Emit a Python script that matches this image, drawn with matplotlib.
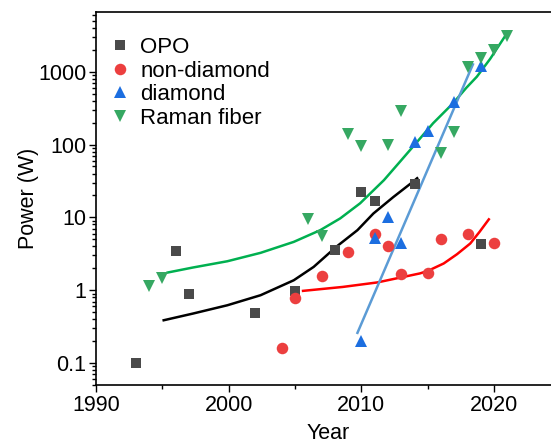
import matplotlib
matplotlib.use("Agg")
import matplotlib.pyplot as plt
from matplotlib.ticker import FixedLocator, FixedFormatter, LogLocator, NullFormatter, MultipleLocator

plt.rcParams['font.family'] = ['Liberation Sans', 'DejaVu Sans']

# ---- data ----
opo_year = [1993, 1996, 1997, 2002, 2005, 2008, 2010, 2011, 2014, 2019]
opo_power = [0.1, 3.5, 0.88, 0.48, 0.97, 3.6, 22, 17, 29, 4.3]

nondia_year = [2004, 2005, 2007, 2009, 2011, 2012, 2013, 2015, 2016, 2018, 2020]
nondia_power = [0.16, 0.78, 1.55, 3.3, 6.0, 4.0, 1.65, 1.75, 5.1, 6.0, 4.4]

dia_year = [2010, 2011, 2012, 2013, 2014, 2015, 2017, 2019]
dia_power = [0.2, 5.2, 10.2, 4.5, 108, 155, 380, 1180]

raman_year = [1994, 1995, 2006, 2007, 2009, 2010, 2012, 2013, 2016, 2017, 2018, 2019, 2020, 2021]
raman_power = [1.15, 1.45, 9.6, 5.5, 140, 97, 100, 285, 76, 148, 1150, 1530, 1980, 3050]

# fit curves, points
fit_raman_x = [1995.4, 1997.3, 1999.9, 2002.4, 2004.9, 2006.9, 2008.4, 2009.9, 2011.7,
               2012.9, 2014.2, 2015.4, 2016.9, 2017.9, 2018.7, 2019.7, 2020.8]
fit_raman_y = [1.75, 2.05, 2.5, 3.26, 4.61, 6.68, 9.68, 15.6, 32.5,
               58, 109, 196, 368, 600, 855, 1500, 3030]

fit_opo_x = [1995.1, 1997.3, 1999.9, 2002.4, 2004.9, 2006.4, 2008.1, 2009.7, 2010.9, 2012.4, 2013.9, 2014.2]
fit_opo_y = [0.387, 0.478, 0.622, 0.854, 1.37, 2.09, 3.94, 6.68, 11.3, 19.0, 31.0, 34.5]

fit_nondia_x = [2005.6, 2008.6, 2011.2, 2014.4, 2015.0, 2016.2, 2017.2, 2018.2, 2018.9, 2019.6]
fit_nondia_y = [0.98, 1.11, 1.28, 1.70, 1.84, 2.33, 3.12, 4.38, 6.33, 9.4]

fit_dia_x = [2009.7, 2018.4]
fit_dia_y = [0.26, 1260]

ytick_vals = [0.1, 1, 10, 100, 1000]
ytick_labels = ["0.1", "1", "10", "100", "1000"]
xtick_vals = [1990, 2000, 2010, 2020]
xtick_labels = ["1990", "2000", "2010", "2020"]

# ---- figure ----
W, H = 551, 444
fig = plt.figure(figsize=(W / 100, H / 100), dpi=100)
left_px, right_px, top_px, bot_px = 96, 560.5, 12, 385
ax = fig.add_axes([left_px / W, (H - bot_px) / H, (right_px - left_px) / W, (bot_px - top_px) / H])

c_opo = '#4a4a4a'
c_red = '#ec3f3f'
c_blue = '#1c6ee0'
c_green = '#36a862'

ax.plot(fit_raman_x, fit_raman_y, color='#00b050', lw=1.8, zorder=2, solid_joinstyle='round')
ax.plot(fit_opo_x, fit_opo_y, color='black', lw=1.8, zorder=2, solid_joinstyle='round')
ax.plot(fit_nondia_x, fit_nondia_y, color='#ff0000', lw=1.8, zorder=2, solid_joinstyle='round')
ax.plot(fit_dia_x, fit_dia_y, color='#5b9bd5', lw=1.8, zorder=2)

ax.plot(opo_year, opo_power, 's', color=c_opo, ms=7.2, mew=0, label='OPO', zorder=3)
ax.plot(nondia_year, nondia_power, 'o', color=c_red, ms=8.3, mew=0, label='non-diamond', zorder=3)
ax.plot(dia_year, dia_power, '^', color=c_blue, ms=9.2, mew=0, label='diamond', zorder=3)
ax.plot(raman_year, raman_power, 'v', color=c_green, ms=9.2, mew=0, label='Raman fiber', zorder=3)

ax.set_yscale('log')
ax.set_xlim(1990, 2025)
ax.set_ylim(0.05, 6600)

ax.yaxis.set_major_locator(FixedLocator(ytick_vals))
ax.yaxis.set_major_formatter(FixedFormatter(ytick_labels))
ax.yaxis.set_minor_locator(LogLocator(base=10, subs=range(2, 10), numticks=20))
ax.yaxis.set_minor_formatter(NullFormatter())
ax.xaxis.set_major_locator(FixedLocator(xtick_vals))
ax.xaxis.set_major_formatter(FixedFormatter(xtick_labels))
ax.xaxis.set_minor_locator(MultipleLocator(5))

ax.tick_params(which='both', direction='out', width=1.0, labelsize=15.5, top=False, right=False)
ax.tick_params(which='major', length=5, pad=2)
ax.tick_params(which='minor', length=3)
for s in ['left', 'bottom', 'top', 'right']:
    ax.spines[s].set_linewidth(1.2)

ax.set_xlabel('Year', fontsize=15.5, labelpad=5.5)
ax.set_ylabel('Power (W)', fontsize=15.5, labelpad=-1)

leg = ax.legend(loc='upper left', frameon=False, fontsize=16, handlelength=0.8,
                handletextpad=0.5, labelspacing=0.12, borderaxespad=0.3,
                bbox_to_anchor=(0.0, 0.975))

fig.savefig('out.png', dpi=100)
